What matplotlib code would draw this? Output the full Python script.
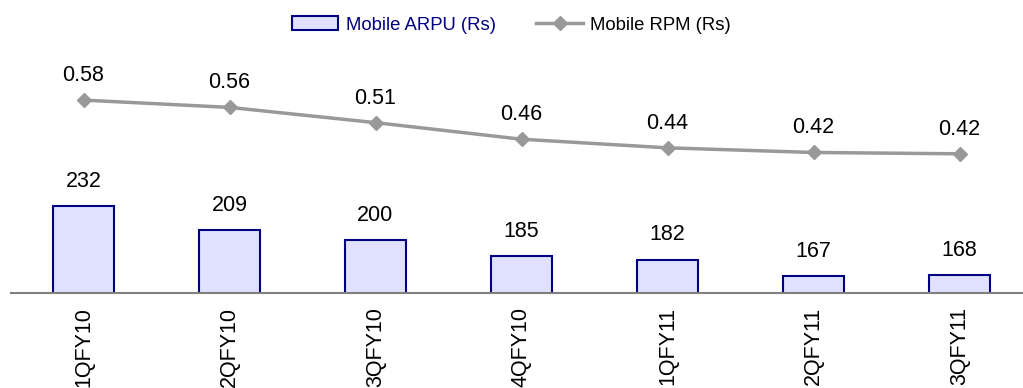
import matplotlib
matplotlib.use('Agg')
import matplotlib.pyplot as plt
import numpy as np

plt.rcParams['font.family'] = ['Liberation Sans', 'DejaVu Sans']

quarters = ['1QFY10', '2QFY10', '3QFY10', '4QFY10', '1QFY11', '2QFY11', '3QFY11']
arpu = [232, 209, 200, 185, 182, 167, 168]
rpm = [0.582, 0.560, 0.514, 0.464, 0.438, 0.424, 0.420]

fig = plt.figure(figsize=(10.23, 3.88), dpi=100)
ax = fig.add_axes([10.5/1023, 95/388, 1022/1023, 232/388])
x = np.arange(len(quarters))

ax.bar(x, arpu, width=0.42, color='#E0E0FF', edgecolor='#000080', linewidth=1.5,
       label='Mobile ARPU (Rs)', zorder=2)
ax.set_xlim(-0.5, len(quarters) - 0.5)
ax.set_ylim(150.9, 366.3)
for xi, v in zip(x, arpu):
    ax.annotate(str(v), (xi, v), xytext=(0, 13.7), textcoords='offset points',
                ha='center', va='baseline', fontsize=15.5, color='black')

ax2 = ax.twinx()
ax2.plot(x, rpm, color='#999999', linewidth=2.5, marker='D', markersize=7,
         label='Mobile RPM (Rs)')
ax2.set_ylim(0, 0.7)
for xi, v in zip(x, rpm):
    ax2.annotate('%.2f' % v, (xi, v), xytext=(0, 13.7), textcoords='offset points',
                 ha='center', va='baseline', fontsize=15.5, color='black')

for a in (ax, ax2):
    for s in ['top', 'left', 'right']:
        a.spines[s].set_visible(False)
    a.set_yticks([])
ax2.spines['bottom'].set_visible(False)
ax.spines['bottom'].set_color('#808080')
ax.spines['bottom'].set_linewidth(1.5)

ax.set_xticks(x)
ax.set_xticklabels(quarters, rotation=90, fontsize=15.5, va='top', ha='center')
ax.tick_params(axis='x', length=0, pad=10)

h1, l1 = ax.get_legend_handles_labels()
h2, l2 = ax2.get_legend_handles_labels()
leg = fig.legend(h1 + h2, l1 + l2, loc='center', bbox_to_anchor=(0.5, 1 - 25/388),
                 ncol=2, frameon=False, fontsize=13.3, handlelength=2.5,
                 handleheight=0.8, handletextpad=0.4, columnspacing=2.2)
leg.get_texts()[0].set_color('#000080')

fig.savefig('out.png', dpi=100)
